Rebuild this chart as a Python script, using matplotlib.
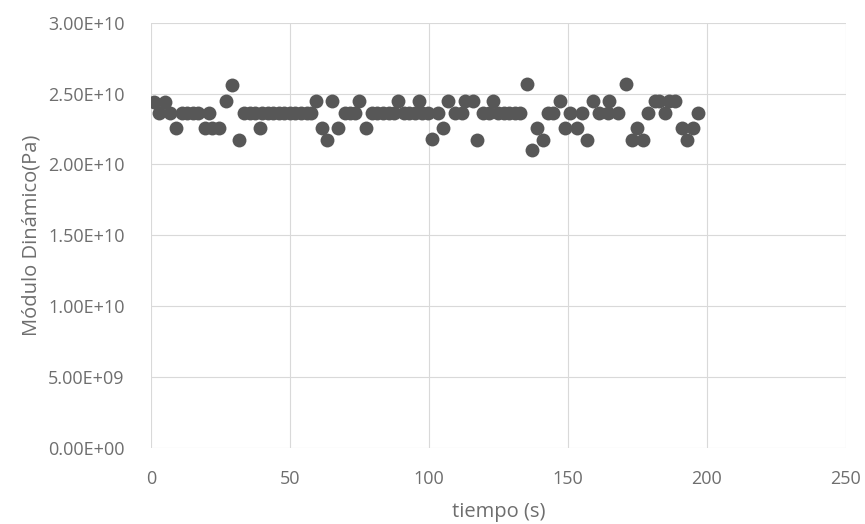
import matplotlib.pyplot as plt
from matplotlib.ticker import FuncFormatter

# tiempo (s) and módulo dinámico (x1e10 Pa)
tiempo = [1, 3, 5, 7, 9, 11, 13, 15, 17, 19.5, 21, 22, 24.5, 27, 29.3, 31.7,
          33.5, 35.5, 37.5, 39.2, 40, 42, 44, 46, 48, 50, 52, 54, 56, 57.5,
          59.4, 61.4, 63.2, 65, 67.4, 69.8, 71.6, 73.4, 74.9, 77.3, 79.4, 81.5,
          83.5, 85.5, 87.5, 89, 91, 93, 95, 96.5, 97.5, 99.7, 101.3, 103.3,
          105.2, 107, 109.4, 111.8, 113, 116, 117.2, 119.6, 121.5, 123.2, 125,
          127, 129, 131, 132.8, 135.2, 137, 138.8, 141.2, 143, 144.7, 147.2,
          149, 150.8, 153.2, 155, 157, 159, 161.3, 164.5, 165, 168.1, 171, 173,
          175, 177.2, 179, 181.4, 183, 185, 186.5, 188.6, 191, 193, 195, 197]
modulo = [2.44, 2.36, 2.44, 2.36, 2.26, 2.36, 2.36, 2.36, 2.36, 2.26, 2.36, 2.26,
          2.26, 2.45, 2.56, 2.17, 2.36, 2.36, 2.36, 2.26, 2.36, 2.36, 2.36, 2.36,
          2.36, 2.36, 2.36, 2.36, 2.36, 2.36, 2.45, 2.26, 2.17, 2.45, 2.26, 2.36,
          2.36, 2.36, 2.45, 2.26, 2.36, 2.36, 2.36, 2.36, 2.36, 2.45, 2.36, 2.36,
          2.36, 2.45, 2.36, 2.36, 2.18, 2.36, 2.26, 2.45, 2.36, 2.36, 2.45, 2.45,
          2.17, 2.36, 2.36, 2.45, 2.36, 2.36, 2.36, 2.36, 2.36, 2.57, 2.10, 2.26,
          2.17, 2.36, 2.36, 2.45, 2.26, 2.36, 2.26, 2.36, 2.17, 2.45, 2.36, 2.36,
          2.45, 2.36, 2.57, 2.17, 2.26, 2.17, 2.36, 2.45, 2.45, 2.36, 2.45, 2.45,
          2.26, 2.17, 2.26, 2.36]
modulo_pa = [m * 1e10 for m in modulo]

x_ticks = [0, 50, 100, 150, 200, 250]
y_ticks = [0, 5e9, 1e10, 1.5e10, 2e10, 2.5e10, 3e10]

plt.rcParams['font.family'] = ['Open Sans', 'DejaVu Sans']
gris = '#6e6e6e'

fig = plt.figure(figsize=(8.65, 5.24), dpi=100)
ax = fig.add_axes([0.1746, 0.145, 0.8029, 0.8117])

ax.plot(tiempo, modulo_pa, linestyle='none', marker='o', markersize=10,
        color='#575757', markeredgewidth=0, zorder=3)

ax.set_xlim(0, 250)
ax.set_ylim(0, 3e10)
ax.set_xticks(x_ticks)
ax.set_yticks(y_ticks)
ax.yaxis.set_major_formatter(FuncFormatter(lambda v, p: '{:.2E}'.format(v)))
ax.grid(True, color='#d9d9d9', linewidth=0.8)
for s in ax.spines.values():
    s.set_visible(False)
ax.tick_params(length=0, labelsize=13, labelcolor=gris)
ax.tick_params(axis='y', pad=19)
ax.tick_params(axis='x', pad=16)

ax.set_xlabel('tiempo (s)', fontsize=14.5, color=gris, labelpad=10)
ax.set_ylabel('Módulo Dinámico(Pa)', fontsize=14.5, color=gris, labelpad=5)

fig.savefig('out.png', dpi=100)
